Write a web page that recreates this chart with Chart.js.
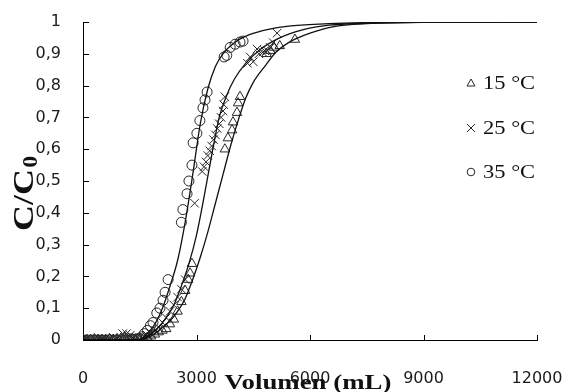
<!DOCTYPE html>
<html><head><meta charset="utf-8">
<script src="https://cdn.jsdelivr.net/npm/chart.js@4.4.1/dist/chart.umd.min.js"></script>
<style>html,body{margin:0;padding:0;background:#fff}#wrap{width:566px;height:392px;position:relative}</style>
</head><body><div id="wrap"><canvas id="c"></canvas></div>
<script>
// ---- data ----
const seriesLabels = ['15 °C', '25 °C', '35 °C'];
const xTicks = [0, 3000, 6000, 9000, 12000];
const yTicks = [0, 0.1, 0.2, 0.3, 0.4, 0.5, 0.6, 0.7, 0.8, 0.9, 1];
const xTitle = 'Volumen (mL)';
const yTitleMain = 'C/C';
const yTitleSub = '0';

// 15 °C measured (triangles)
const vol15 = [0,100,200,300,400,500,600,700,800,900,1000,1100,1200,1300,1400,1500,1600,1700,1800,1900,2000,2100,2200,2300,2400,2500,2600,2700,2780,2830,2880,3750,3830,3940,3965,4070,4100,4150,4850,4950,5050,5200,5600];
const c15   = [0,0,0,0.003,0,0,0,0.003,0,0,0.005,0.008,0.005,0.003,0.003,0.003,0.005,0.008,0.012,0.018,0.025,0.03,0.035,0.05,0.065,0.09,0.12,0.155,0.19,0.21,0.24,0.60,0.635,0.66,0.685,0.715,0.745,0.765,0.90,0.91,0.92,0.925,0.945];
// 25 °C measured (crosses)
const vol25 = [0,100,200,300,400,500,600,700,800,900,1000,1050,1150,1250,1350,1450,1600,1700,1800,1900,2000,2100,2200,2300,2400,2500,2600,2700,2950,3150,3200,3250,3300,3350,3400,3450,3500,3550,3600,3650,3700,3720,3750,4350,4420,4500,4600,4650,4750,4800,4870,4950,5030,5130];
const c25   = [0.005,0.005,0.003,0.005,0.005,0.003,0.005,0.005,0.008,0.005,0.008,0.02,0.02,0.015,0.008,0.005,0.01,0.015,0.02,0.03,0.04,0.055,0.07,0.09,0.11,0.135,0.16,0.19,0.43,0.53,0.545,0.56,0.58,0.595,0.61,0.63,0.645,0.665,0.68,0.70,0.72,0.74,0.765,0.87,0.89,0.875,0.915,0.90,0.905,0.91,0.91,0.92,0.935,0.965];
// 35 °C measured (circles)
const vol35 = [0,100,200,300,400,500,600,700,800,900,1000,1100,1200,1300,1400,1500,1550,1620,1700,1780,1850,1950,2035,2115,2170,2250,2600,2640,2750,2800,2880,2910,3010,3090,3170,3225,3280,3730,3800,3890,4020,4150,4230];
const c35   = [0,0,0,0,0,0,0,0,0,0,0,0,0,0.003,0.003,0.005,0.01,0.02,0.03,0.045,0.055,0.085,0.10,0.125,0.15,0.19,0.37,0.41,0.46,0.50,0.55,0.62,0.65,0.69,0.73,0.755,0.78,0.89,0.895,0.92,0.93,0.937,0.94];

// fitted curves
const fitVol15 = [0,1500,1650,1900,2100,2300,2500,2700,2900,3100,3300,3500,3700,3900,4100,4300,4500,4800,5100,5500,6000,6600,7500,9000,12000];
const fit15    = [0,0,0.005,0.02,0.04,0.06,0.09,0.13,0.19,0.26,0.34,0.43,0.52,0.61,0.69,0.76,0.81,0.86,0.905,0.94,0.965,0.985,0.995,0.999,1];
const fitVol25 = [0,1450,1600,1800,2000,2200,2400,2600,2800,3000,3200,3400,3600,3800,4000,4300,4700,5200,5800,6500,7500,9000,12000];
const fit25    = [0,0,0.005,0.02,0.04,0.07,0.11,0.17,0.24,0.33,0.45,0.58,0.70,0.77,0.82,0.87,0.915,0.95,0.975,0.99,0.996,0.999,1];
const fitVol35 = [0,1400,1550,1700,1900,2100,2300,2500,2700,2900,3100,3300,3500,3700,4000,4400,4900,5500,6500,8000,10000,12000];
const fit35    = [0,0,0.005,0.02,0.05,0.10,0.17,0.25,0.37,0.52,0.68,0.79,0.86,0.90,0.935,0.96,0.977,0.988,0.995,0.999,1,1];

// ---- build ----
const pts = (xs, ys) => xs.map((v, i) => ({x: v, y: ys[i]}));
const ink = '#262626';
const markerDs = (label, xs, ys, style, r) => ({
  label, data: pts(xs, ys), showLine: false, pointStyle: style, pointRadius: r,
  pointBorderColor: ink, pointBackgroundColor: 'rgba(0,0,0,0)', pointBorderWidth: 1, order: 2
});
const lineDs = (xs, ys) => ({
  label: '', data: pts(xs, ys), showLine: true, pointRadius: 0, borderColor: '#111',
  borderWidth: 1.3, cubicInterpolationMode: 'monotone', fill: false, order: 1
});
const fmtY = v => { const r = Math.round(v * 10) / 10; return String(r).replace('.', ','); };

const deco = {
  id: 'deco',
  afterDraw(chart) {
    const {ctx, chartArea: a, scales: {x, y}} = chart;
    ctx.save();
    ctx.strokeStyle = '#000'; ctx.lineWidth = 1;
    xTicks.forEach(v => { const px = Math.round(x.getPixelForValue(v)) + 0.5;
      ctx.beginPath(); ctx.moveTo(px, a.bottom); ctx.lineTo(px, a.bottom - 5); ctx.stroke(); });
    yTicks.forEach(v => { const py = Math.round(y.getPixelForValue(v)) + 0.5;
      ctx.beginPath(); ctx.moveTo(a.left, py); ctx.lineTo(a.left + 6, py); ctx.stroke(); });
    // legend
    const styles = ['triangle', 'crossRot', 'circle'];
    const ly = [a.top + 61, a.top + 106, a.top + 150];
    const mx = a.right - 66, tx = a.right - 54;
    seriesLabels.forEach((lab, i) => {
      const cy = ly[i];
      ctx.strokeStyle = ink; ctx.lineWidth = 1;
      ctx.beginPath();
      if (styles[i] === 'triangle') {
        ctx.moveTo(mx, cy - 4); ctx.lineTo(mx + 4, cy + 3); ctx.lineTo(mx - 4, cy + 3); ctx.closePath();
      } else if (styles[i] === 'crossRot') {
        ctx.moveTo(mx - 4, cy - 4); ctx.lineTo(mx + 4, cy + 4); ctx.moveTo(mx + 4, cy - 4); ctx.lineTo(mx - 4, cy + 4);
      } else {
        ctx.arc(mx, cy, 3.8, 0, Math.PI * 2);
      }
      ctx.stroke();
      ctx.save();
      ctx.translate(tx, cy);
      ctx.scale(1.25, 1);
      ctx.fillStyle = '#111';
      ctx.font = '18px "Liberation Serif", "Times New Roman", serif';
      ctx.textBaseline = 'middle'; ctx.textAlign = 'left';
      ctx.fillText(lab, 0, 1);
      ctx.restore();
    });
    // x title
    ctx.save();
    ctx.translate((a.left + a.right) / 2 - 2, 389);
    ctx.scale(1.22, 1);
    ctx.fillStyle = '#111';
    ctx.font = 'bold 22px "Liberation Serif", "Times New Roman", serif';
    ctx.textAlign = 'center'; ctx.textBaseline = 'alphabetic';
    ctx.fillText(xTitle, 0, 0);
    ctx.restore();
    // y title
    ctx.save();
    ctx.translate(33, 231);
    ctx.rotate(-Math.PI / 2);
    ctx.scale(1.2, 1);
    ctx.fillStyle = '#111';
    ctx.font = 'bold 30px "Liberation Serif", "Times New Roman", serif';
    ctx.textAlign = 'left'; ctx.textBaseline = 'alphabetic';
    ctx.fillText(yTitleMain, 0, 0);
    const w = ctx.measureText(yTitleMain).width;
    ctx.font = 'bold 20px "Liberation Serif", "Times New Roman", serif';
    ctx.fillText(yTitleSub, w + 1, 4);
    ctx.restore();
    ctx.restore();
  }
};

new Chart(document.getElementById('c'), {
  type: 'scatter',
  data: {
    datasets: [
      markerDs(seriesLabels[0], vol15, c15, 'triangle', 5.5),
      markerDs(seriesLabels[1], vol25, c25, 'crossRot', 6),
      markerDs(seriesLabels[2], vol35, c35, 'circle', 5),
      lineDs(fitVol15, fit15),
      lineDs(fitVol25, fit25),
      lineDs(fitVol35, fit35)
    ]
  },
  options: {
    responsive: true, maintainAspectRatio: false, animation: false,
    layout: {padding: {left: 0, right: 29, top: 22, bottom: 0}},
    plugins: {legend: {display: false}, tooltip: {enabled: false}},
    scales: {
      x: {
        type: 'linear', min: 0, max: 12000,
        afterBuildTicks: s => { s.ticks = xTicks.map(v => ({value: v})); },
        afterFit: s => { s.height = 52; s.paddingLeft = 0; s.paddingRight = 0; },
        grid: {display: false, drawTicks: false},
        border: {display: true, color: '#000', width: 1},
        ticks: {padding: 29, color: '#1a1a1a', font: {family: '"DejaVu Sans"', size: 16}, maxRotation: 0,
                callback: v => String(v)}
      },
      y: {
        type: 'linear', min: 0, max: 1,
        afterBuildTicks: s => { s.ticks = yTicks.map(v => ({value: v})); },
        afterFit: s => { s.width = 83; s.paddingTop = 0; s.paddingBottom = 0; },
        grid: {display: false, drawTicks: false},
        border: {display: true, color: '#000', width: 1},
        ticks: {padding: 22, color: '#1a1a1a', font: {family: '"DejaVu Sans"', size: 16}, callback: v => fmtY(v)}
      }
    }
  },
  plugins: [deco]
});
</script>
</body></html>
